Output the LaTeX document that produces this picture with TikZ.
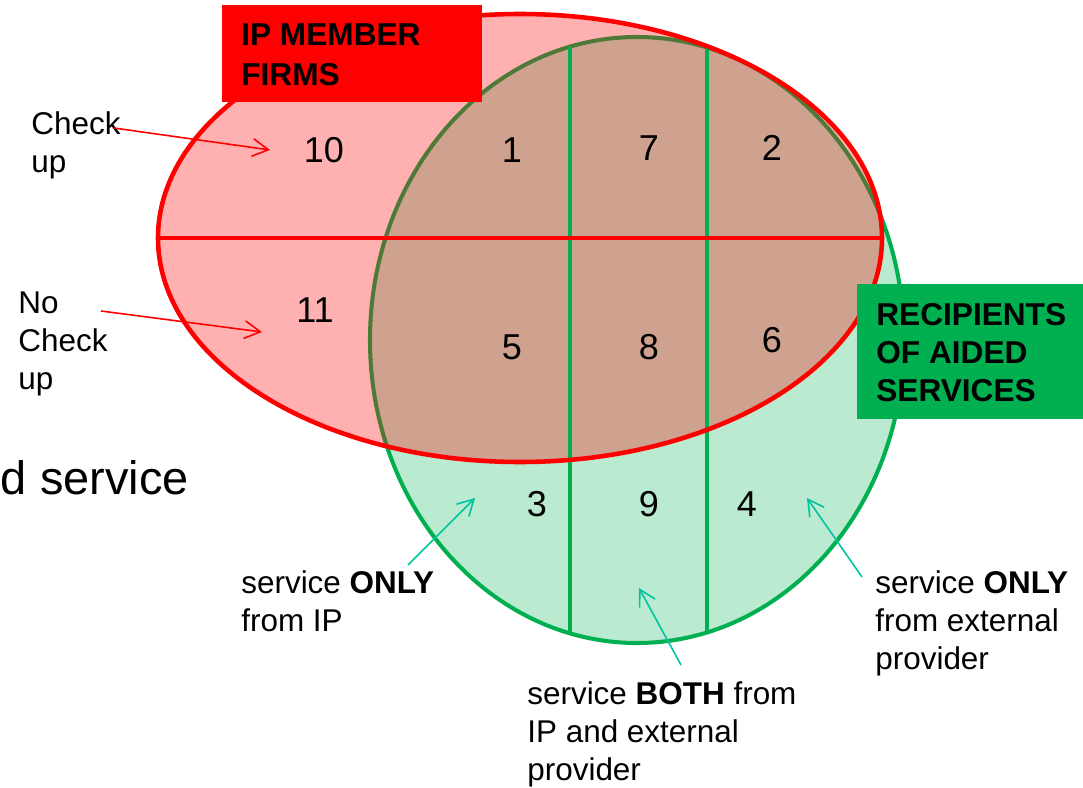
\documentclass[tikz,border=0pt]{standalone}
\usepackage{fontspec}
\setmainfont{Liberation Sans}
\usetikzlibrary{arrows.meta}

\definecolor{ipred}{RGB}{255,0,0}
\definecolor{aidgreen}{RGB}{0,176,80}
\definecolor{pointer}{RGB}{0,196,160}

\tikzset{
  num/.style={inner sep=0pt, font=\fontsize{20.5}{24}\selectfont},
  lbl/.style={inner sep=0pt, anchor=base west, align=left, font=\fontsize{17.9}{21.5}\selectfont},
  boxlbl/.style={lbl, font=\fontsize{18}{22.7}\selectfont\bfseries},
  redarrow/.style={ipred, line width=0.9pt, -{Straight Barb[length=9pt,width=10pt]}},
  tealarrow/.style={pointer, line width=0.9pt, -{Straight Barb[length=9pt,width=10pt]}}
}

\begin{document}
\begin{tikzpicture}[x=0.02cm, y=-0.02cm]
  \useasboundingbox (0,0) rectangle (1083,788);

  % recipients circle
  \fill[aidgreen!27] (637,340) ellipse [x radius=267, y radius=303];
  \draw[aidgreen, line width=2.3pt] (637,340) ellipse [x radius=267, y radius=303];

  % member circle
  \fill[ipred, opacity=0.31] (520,238) ellipse [x radius=362, y radius=224];

  % provider split lines
  \begin{scope}
    \clip (637,340) ellipse [x radius=267, y radius=303];
    \draw[aidgreen, line width=1.9pt] (570,0)--(570,700);
    \draw[aidgreen, line width=1.9pt] (707,0)--(707,700);
  \end{scope}

  % check up split line
  \draw[ipred, line width=1.9pt] (159,238)--(881,238);
  \draw[ipred, line width=2.6pt] (520,238) ellipse [x radius=362, y radius=224];

  % group boxes (base = last line)
  \fill[ipred] (222,5) rectangle (482,102);
  \node[boxlbl] (ipfirms) at (241,85) {IP MEMBER\\FIRMS};

  \fill[aidgreen] (857,284) rectangle (1083,419);
  \node[boxlbl, font=\fontsize{18}{21.5}\selectfont\bfseries] (recip) at (876,401) {RECIPIENTS\\OF AIDED\\SERVICES};

  % region numbers
  \foreach \n/\x/\y in {10/324/150, 1/512/150, 7/649/148, 2/772/148,
                        11/315/310, 5/512/347, 8/649/347, 6/772/340,
                        3/537/504, 9/649/504, 4/747/504}
    \node[num] (n\n) at (\x,\y) {\n};

  % left over title
  \node[inner sep=0pt, anchor=base east, font=\fontsize{26.7}{32}\selectfont] (dserv) at (189,494) {d service};

  % check up labels
  \node[lbl] (chk) at (31,172) {Check\\up};
  \node[lbl] (nochk) at (18,389) {No\\Check\\up};

  \coordinate (chkfrom) at (114,128);
  \coordinate (chkto) at (270,150);
  \coordinate (nochkfrom) at (101,311);
  \coordinate (nochkto) at (262,332);
  \draw[redarrow] (chkfrom)--(chkto);
  \draw[redarrow] (nochkfrom)--(nochkto);

  % service labels
  \node[lbl] (onlyip) at (241,631) {service \textbf{ONLY}\\from IP};
  \node[lbl] (both) at (527,780) {service \textbf{BOTH} from\\IP and external\\provider};
  \node[lbl] (onlyext) at (875,669) {service \textbf{ONLY}\\from external\\provider};

  \coordinate (ipfrom) at (408,565);
  \coordinate (ipto) at (475,498);
  \coordinate (bothfrom) at (681,665);
  \coordinate (bothto) at (639,588);
  \coordinate (extfrom) at (862,577);
  \coordinate (extto) at (807,498);
  \draw[tealarrow] (ipfrom)--(ipto);
  \draw[tealarrow] (bothfrom)--(bothto);
  \draw[tealarrow] (extfrom)--(extto);

\end{tikzpicture}
\end{document}
